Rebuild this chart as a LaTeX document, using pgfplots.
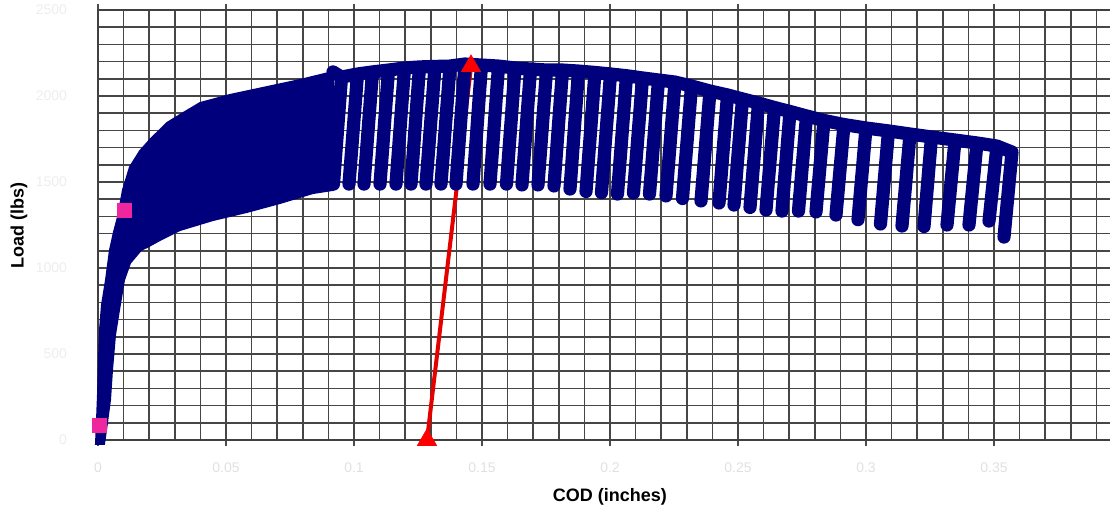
\documentclass[border=0pt]{standalone}
\usepackage{fontspec}
\setmainfont{Liberation Sans}
\usepackage{pgfplots}
\pgfplotsset{compat=1.18}
\definecolor{navyband}{RGB}{0,0,125}
\definecolor{gridgray}{RGB}{70,70,70}

\begin{document}
\begin{tikzpicture}
\begin{axis}[
    at={(0,0)}, anchor=south west,
    scale only axis,
    width=512pt, height=215pt,
    xmin=0, xmax=0.4, ymin=0, ymax=2500,
    xtick={0,0.05,...,0.4},
    xticklabels={0,0.05,0.1,0.15,0.2,0.25,0.3,0.35,},
    ytick={0,500,...,2500},
    minor x tick num=4,
    minor y tick num=4,
    grid=both,
    major grid style={gridgray, line width=0.75pt},
    minor grid style={gridgray, line width=0.75pt},
    axis line style={black!75, line width=1.1pt},
    xtick align=outside,
    major tick length=3pt,
    minor tick length=0pt,
    ytick style={draw=none},
    xtick style={black!70, line width=0.7pt},
    clip=false,
    /pgf/number format/assume math mode=true,
    /pgf/number format/1000 sep={},
    tick label style={font=\fontsize{7}{8}\selectfont},
    xticklabel style={yshift=-5pt, text=black!12},
    yticklabel style={xshift=-12pt, text=black!7},
    every axis x label/.style={at={(axis description cs:0.5,-0.1326)}, anchor=center},
    every axis y label/.style={at={(axis description cs:-0.0771,0.5)}, rotate=90, anchor=center},
    label style={font=\fontsize{9}{11}\selectfont\bfseries},
    xlabel={COD (inches)},
    ylabel={Load (lbs)},
]

% red construction line (behind the data)
\addplot[red!90!black, line width=2pt] coordinates {(0.12852,0) (0.14570,2169)};

% dense cyclic region near the start
\addplot[fill=navyband, draw=navyband, line width=1pt] coordinates {
  (-0.00078,-23) (-0.00039,116) (0,262) (0.00039,465) (0.00078,640)
  (0.00156,785) (0.00313,930) (0.00469,1105) (0.00625,1209) (0.00781,1297)
  (0.00977,1454) (0.0125,1587) (0.01641,1680)
  (0.02031,1745) (0.02695,1843) (0.03398,1907) (0.03984,1959) (0.05156,2006)
  (0.06602,2052) (0.07891,2093) (0.0918,2140)
  (0.0918,1454) (0.08398,1436) (0.07109,1378) (0.0582,1326) (0.04492,1279)
  (0.03203,1221) (0.02422,1163) (0.01914,1122) (0.0168,1105) (0.0125,1029)
  (0.01016,930) (0.0082,756) (0.00664,610) (0.00547,407) (0.00469,233)
  (0.00313,58) (0.00234,-23)
} -- cycle;

% unload / reload cycles
\addplot[navyband, line width=6.6pt, line cap=round, line join=round] coordinates {
  (0.0918,2140)
  (0.09512,2110) (0.09199,1488) (0.09512,2110)
  (0.10137,2128) (0.09805,1488) (0.10137,2128)
  (0.10723,2140) (0.10391,1488) (0.10723,2140)
  (0.11348,2151) (0.11016,1488) (0.11348,2151)
  (0.11973,2163) (0.11641,1488) (0.11973,2163)
  (0.12559,2169) (0.12227,1488) (0.12559,2169)
  (0.13164,2172) (0.12813,1488) (0.13164,2172)
  (0.13750,2174) (0.13398,1488) (0.13750,2174)
  (0.14336,2186) (0.13984,1488) (0.14336,2186)
  (0.14980,2180) (0.14648,1488) (0.14980,2180)
  (0.15645,2174) (0.15313,1488) (0.15645,2174)
  (0.16289,2163) (0.15957,1488) (0.16289,2163)
  (0.16895,2157) (0.16563,1483) (0.16895,2157)
  (0.17520,2151) (0.17188,1483) (0.17520,2151)
  (0.18145,2151) (0.17813,1477) (0.18145,2151)
  (0.18770,2145) (0.18438,1459) (0.18770,2145)
  (0.19414,2137) (0.19063,1445) (0.19414,2137)
  (0.20020,2128) (0.19668,1438) (0.20020,2128)
  (0.20645,2118) (0.20293,1430) (0.20645,2118)
  (0.21270,2105) (0.20918,1436) (0.21270,2105)
  (0.21895,2093) (0.21543,1430) (0.21895,2093)
  (0.22539,2081) (0.22188,1419) (0.22539,2081)
  (0.23184,2058) (0.22832,1404) (0.23184,2058)
  (0.23906,2029) (0.23555,1390) (0.23906,2029)
  (0.24590,2006) (0.24258,1378) (0.24590,2006)
  (0.25176,1983) (0.24844,1366) (0.25176,1983)
  (0.25801,1959) (0.25469,1352) (0.25801,1959)
  (0.26426,1933) (0.26094,1337) (0.26426,1933)
  (0.27031,1910) (0.26719,1331) (0.27031,1910)
  (0.27676,1884) (0.27363,1331) (0.27676,1884)
  (0.28359,1858) (0.28047,1326) (0.28359,1858)
  (0.29141,1834) (0.28828,1308) (0.29141,1834)
  (0.30000,1814) (0.29688,1281) (0.30000,1814)
  (0.30879,1797) (0.30566,1256) (0.30879,1797)
  (0.31719,1779) (0.31406,1244) (0.31719,1779)
  (0.32559,1762) (0.32266,1241) (0.32559,1762)
  (0.33477,1744) (0.33164,1250) (0.33477,1744)
  (0.34336,1727) (0.34023,1250) (0.34336,1727)
  (0.35117,1709) (0.34805,1273) (0.35117,1709)
  (0.35703,1674) (0.35391,1180) (0.35703,1674)
};

% markers
\addplot[only marks, mark=triangle*, mark size=5.5pt, red, mark options={fill=red}]
  coordinates {(0.12852,0) (0.14570,2174)};
\addplot[only marks, mark=square*, mark size=3.5pt, magenta!85!white]
  coordinates {(0.00039,87) (0.01016,1337)};
\end{axis}
\pgfresetboundingbox
\path[use as bounding box] (-49pt,-35.5pt) rectangle (506pt,220pt);
\end{tikzpicture}
\end{document}
